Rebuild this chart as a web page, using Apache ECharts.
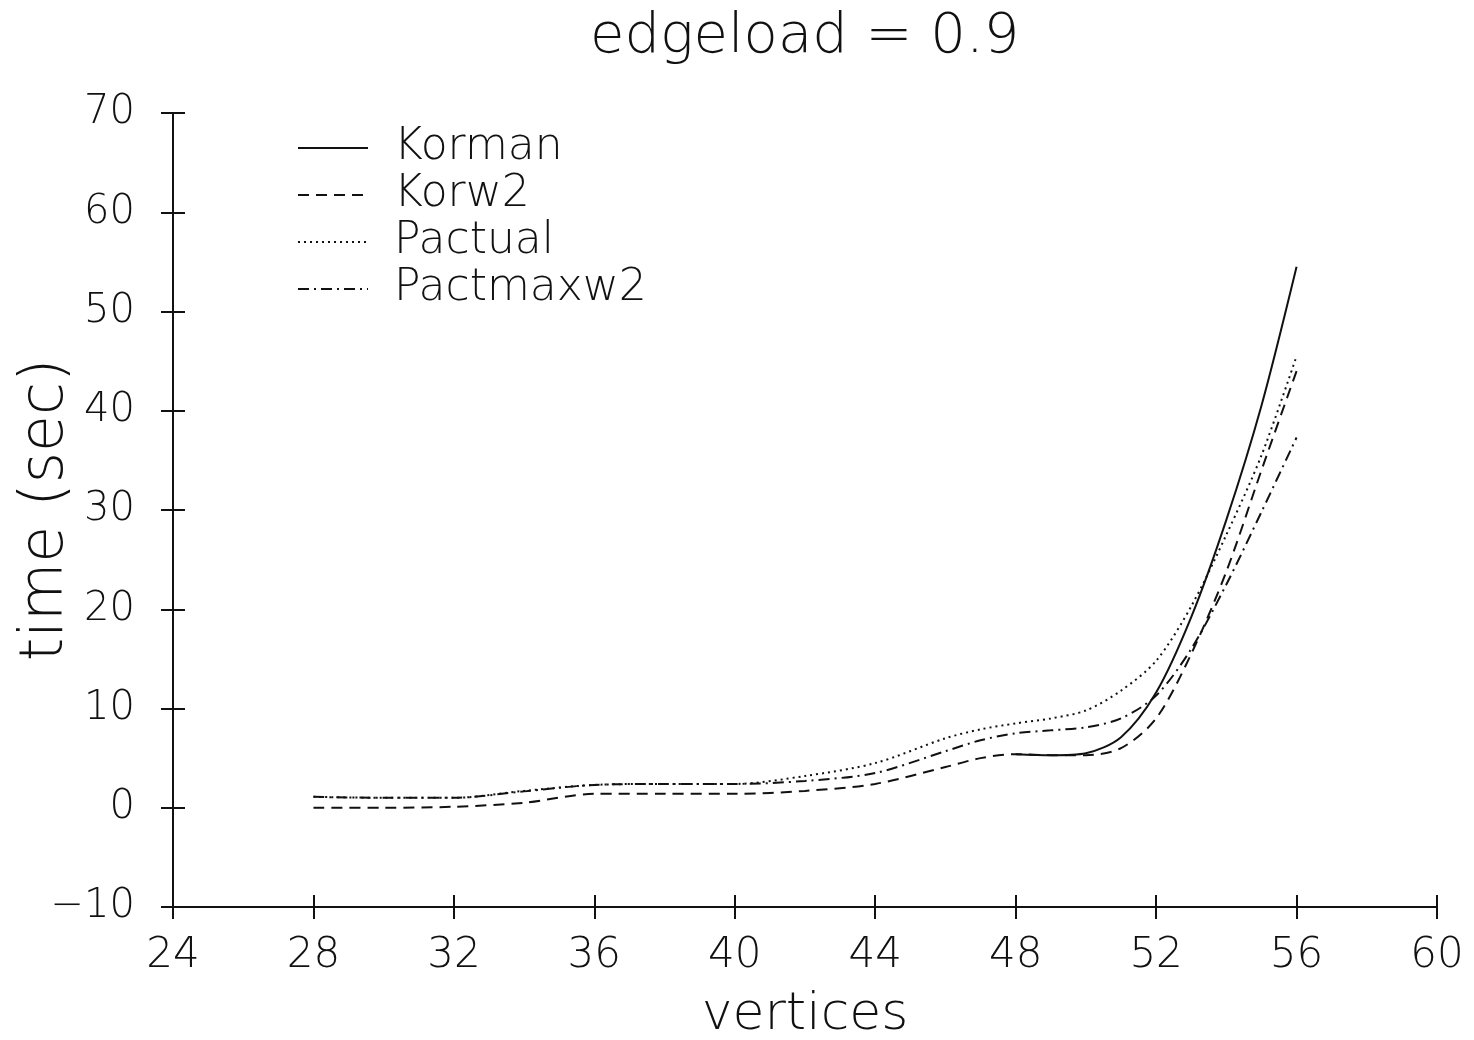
<!DOCTYPE html>
<html>
<head>
<meta charset="utf-8">
<title>edgeload = 0.9</title>
<script src="https://cdn.jsdelivr.net/npm/echarts@6/dist/echarts.min.js"></script>
<style>
  html, body { margin: 0; padding: 0; background: #ffffff; }
  #chart { width: 1474px; height: 1040px; }
</style>
</head>
<body>
<div id="chart"></div>
<script>
// Run time (sec) against number of vertices, edgeload = 0.9
const vertices = [28, 30, 32, 34, 36, 38, 40, 42, 44, 46, 47, 48, 49, 50, 51, 52, 53, 54, 55, 56];
const korman    = [null, null, null, null, null, null, null, null, null, null, null, 5.4, 5.3, 5.5, 7.1, 11.6, 19.2, 29.0, 40.5, 54.5];
const korw2     = [0, 0, 0.1, 0.5, 1.4, 1.4, 1.4, 1.7, 2.4, 4.1, 5.0, 5.4, 5.3, 5.3, 6.0, 9.0, 15.5, 23.8, 34.0, 44.0];
const pactual   = [1.1, 1.0, 1.0, 1.7, 2.3, 2.4, 2.4, 3.2, 4.5, 7.0, 7.9, 8.5, 9.0, 9.8, 11.8, 14.8, 20.3, 27.5, 35.5, 45.5];
const pactmaxw2 = [1.1, 1.0, 1.0, 1.65, 2.3, 2.4, 2.4, 2.7, 3.5, 5.7, 6.8, 7.5, 7.8, 8.1, 9.0, 11.3, 16.0, 22.5, 29.8, 37.3];

const xTicks = { min: 24, max: 60, interval: 4 };
const yTicks = { min: -10, max: 70, interval: 10 };
const xTickValues = [24, 28, 32, 36, 40, 44, 48, 52, 56, 60];
const yTickValues = [-10, 0, 10, 20, 30, 40, 50, 60, 70];

const FONT = '"DejaVu Sans", Lato, sans-serif';
const WEIGHT = 200;
const INK = '#111111';
const TICK = 12;

const CHART_W = 1474, CHART_H = 1040;
const GRID = { left: 173, right: 37, top: 113, bottom: 133 };
// length of a tick mark, converted to data units along each axis
const xTickLen = (xTicks.max - xTicks.min) * TICK / (CHART_W - GRID.left - GRID.right);
const yTickLen = (yTicks.max - yTicks.min) * TICK / (CHART_H - GRID.top - GRID.bottom);

function pairs(ys) {
  return vertices.map((v, i) => [v, ys[i]]);
}

// Inner halves of the tick marks, so each tick crosses its axis line.
const innerTickLines = [
  ...xTickValues.map(v => [{ coord: [v, yTicks.min] }, { coord: [v, yTicks.min + yTickLen] }]),
  ...yTickValues.map(v => [{ coord: [xTicks.min, v] }, { coord: [xTicks.min + xTickLen, v] }])
];

function lineSeries(name, ys, dash, extra) {
  return Object.assign({
    name: name,
    type: 'line',
    data: pairs(ys),
    smooth: 0.3,
    symbol: 'none',
    connectNulls: false,
    lineStyle: { color: INK, width: 2, type: dash },
    itemStyle: { color: INK },
    emphasis: { disabled: true }
  }, extra || {});
}

const chart = echarts.init(document.getElementById('chart'), null, { renderer: 'canvas' });
chart.setOption({
  backgroundColor: '#ffffff',
  animation: false,
  title: {
    text: 'edgeload = 0.9',
    left: 585,
    top: 4,
    textStyle: { color: INK, fontSize: 56, fontWeight: WEIGHT, fontFamily: FONT }
  },
  grid: {
    left: GRID.left, right: GRID.right, top: GRID.top, bottom: GRID.bottom,
    containLabel: false, outerBoundsMode: 'none'
  },
  legend: {
    orient: 'vertical',
    left: 292,
    top: 121,
    itemWidth: 70,
    itemHeight: 14,
    itemGap: 3,
    itemStyle: { color: 'rgba(0,0,0,0)', borderWidth: 0, opacity: 0 },
    textStyle: { color: INK, fontSize: 44, fontWeight: WEIGHT, fontFamily: FONT, padding: [0, 0, 0, 21], lineHeight: 44 },
    data: ['Korman', 'Korw2', 'Pactual', 'Pactmaxw2']
  },
  xAxis: {
    type: 'value',
    min: xTicks.min, max: xTicks.max, interval: xTicks.interval,
    position: 'bottom',
    axisLine: { show: true, onZero: false, lineStyle: { color: INK, width: 2 } },
    axisTick: { show: true, length: TICK, lineStyle: { color: INK, width: 2 } },
    axisLabel: { margin: 28, color: INK, fontSize: 42, fontWeight: WEIGHT, fontFamily: FONT },
    splitLine: { show: false },
    name: 'vertices',
    nameLocation: 'middle',
    nameGap: 82,
    nameMoveOverlap: false,
    nameTextStyle: { color: INK, fontSize: 52, fontWeight: WEIGHT, fontFamily: FONT }
  },
  yAxis: {
    type: 'value',
    min: yTicks.min, max: yTicks.max, interval: yTicks.interval,
    position: 'left',
    axisLine: { show: true, onZero: false, lineStyle: { color: INK, width: 2 } },
    axisTick: { show: true, length: TICK, lineStyle: { color: INK, width: 2 } },
    axisLabel: {
      margin: 38, color: INK, fontSize: 40, fontWeight: WEIGHT, fontFamily: FONT,
      formatter: v => String(v).replace('-', '\u2212')
    },
    splitLine: { show: false },
    name: 'time (sec)',
    nameLocation: 'middle',
    nameGap: 97,
    nameMoveOverlap: false,
    nameRotate: 90,
    nameTextStyle: { color: INK, fontSize: 60, fontWeight: WEIGHT, fontFamily: FONT }
  },
  series: [
    lineSeries('Korman', korman, 'solid'),
    lineSeries('Korw2', korw2, [11, 7], {
      markLine: {
        silent: true,
        animation: false,
        symbol: ['none', 'none'],
        label: { show: false },
        emphasis: { disabled: true },
        lineStyle: { color: INK, width: 2, type: 'solid' },
        data: innerTickLines
      }
    }),
    lineSeries('Pactual', pactual, [2, 4]),
    lineSeries('Pactmaxw2', pactmaxw2, [11, 5, 2, 5])
  ]
});
</script>
</body>
</html>
